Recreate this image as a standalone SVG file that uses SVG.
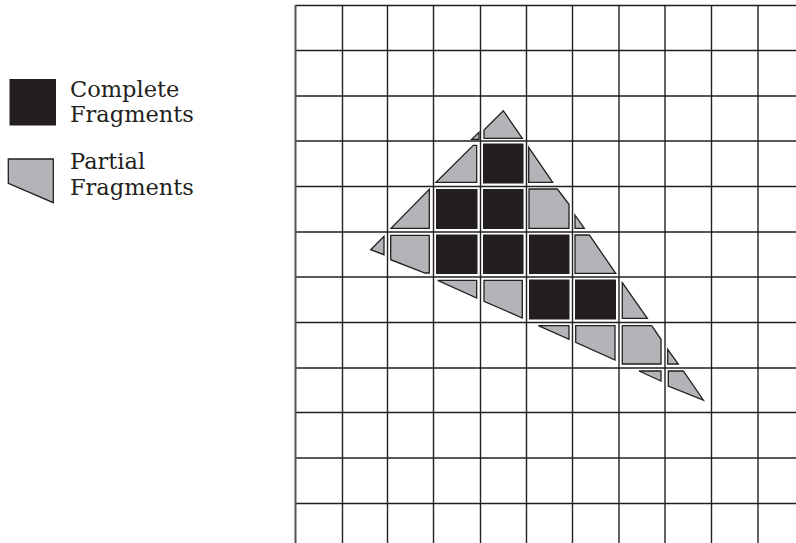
<svg xmlns="http://www.w3.org/2000/svg" width="796" height="543" viewBox="0 0 796 543">
<style>
.grid line{stroke:#231f20;stroke-width:1.4}
.full{fill:#231f20;stroke:#231f20;stroke-width:1}
.part{fill:#b3b4b7;stroke:#231f20;stroke-width:1.3;stroke-linejoin:miter}
.lbl{font-family:"DejaVu Serif","Liberation Serif",serif;font-size:22.5px;fill:#231f20}
</style>
<rect width="796" height="543" fill="#fff"/>
<g id="grid" class="grid">
<line x1="295.5" y1="5.5" x2="796" y2="5.5"/>
<line x1="295.5" y1="50.5" x2="796" y2="50.5"/>
<line x1="295.5" y1="96" x2="796" y2="96"/>
<line x1="295.5" y1="141" x2="796" y2="141"/>
<line x1="295.5" y1="186.5" x2="796" y2="186.5"/>
<line x1="295.5" y1="232" x2="796" y2="232"/>
<line x1="295.5" y1="277" x2="796" y2="277"/>
<line x1="295.5" y1="322.5" x2="796" y2="322.5"/>
<line x1="295.5" y1="368" x2="796" y2="368"/>
<line x1="295.5" y1="412.5" x2="796" y2="412.5"/>
<line x1="295.5" y1="458" x2="796" y2="458"/>
<line x1="295.5" y1="503.5" x2="796" y2="503.5"/>
<line x1="295.5" y1="5" x2="295.5" y2="543" style="stroke:#555;stroke-width:2"/>
<line x1="342.5" y1="5" x2="342.5" y2="543"/>
<line x1="387.5" y1="5" x2="387.5" y2="543"/>
<line x1="433.5" y1="5" x2="433.5" y2="543"/>
<line x1="480.5" y1="5" x2="480.5" y2="543"/>
<line x1="526.5" y1="5" x2="526.5" y2="543"/>
<line x1="572.5" y1="5" x2="572.5" y2="543"/>
<line x1="619" y1="5" x2="619" y2="543"/>
<line x1="665" y1="5" x2="665" y2="543"/>
<line x1="711.5" y1="5" x2="711.5" y2="543"/>
<line x1="758" y1="5" x2="758" y2="543"/>
</g>
<g id="complete-fragments">
<rect class="full" x="483.5" y="144" width="39.5" height="39"/>
<rect class="full" x="436.5" y="189.5" width="40.5" height="39"/>
<rect class="full" x="483.5" y="189.5" width="39.5" height="39"/>
<rect class="full" x="436.5" y="235" width="40.5" height="38.5"/>
<rect class="full" x="483.5" y="235" width="39.5" height="38.5"/>
<rect class="full" x="529.5" y="235" width="39.5" height="38.5"/>
<rect class="full" x="529.5" y="280" width="39.5" height="39"/>
<rect class="full" x="575.5" y="280" width="40" height="39"/>
</g>
<g id="partial-fragments">
<polygon class="part" points="479,132.3 479,139.3 471.7,139.3"/>
<polygon class="part" points="484,130 503.3,110.7 522.3,138.3 484,138.3"/>
<polygon class="part" points="473.3,145.3 476.7,145.3 476.7,182.3 436,182.3"/>
<polygon class="part" points="528.7,147.3 552.7,182.3 528.7,182.3"/>
<polygon class="part" points="429.3,189.3 429.3,228.3 391,228.3"/>
<polygon class="part" points="529,189 557.3,189 569,204.3 569,228.3 529,228.3"/>
<polygon class="part" points="575,215 584.3,228.3 575,228.3"/>
<polygon class="part" points="384,236.3 384,254.7 370.7,249.7"/>
<polygon class="part" points="390.7,235.3 429.3,235.3 429.3,273 425,273 390.7,259.7"/>
<polygon class="part" points="575,235 589.3,235 615.7,273.3 575,273.3"/>
<polygon class="part" points="437.7,280.3 476.7,280.3 476.7,298"/>
<polygon class="part" points="484,280.3 522.3,280.3 522.3,318 484,301.3"/>
<polygon class="part" points="622.3,282.7 647.3,318.3 622.3,318.3"/>
<polygon class="part" points="538.3,325.7 569,325.7 569,339.3"/>
<polygon class="part" points="575.7,325.7 615,325.7 615,360 575.7,342.3"/>
<polygon class="part" points="622.3,325.7 651.7,325.7 661,339.3 661,364 622.3,364"/>
<polygon class="part" points="667.7,349.3 678.3,364 667.7,364"/>
<polygon class="part" points="639,371 661,371 661,381"/>
<polygon class="part" points="668.3,371 683.3,371 703.3,400 668.3,386"/>
</g>
<g id="legend-complete">
<rect class="full" x="10" y="79.5" width="45.5" height="45.5"/>
<text class="lbl" x="70" y="97">Complete</text>
<text class="lbl" x="70" y="122">Fragments</text>
</g>
<g id="legend-partial">
<polygon class="part" points="8.3,159 53.3,159 53.3,202.7 8.3,183.3"/>
<text class="lbl" x="70" y="169">Partial</text>
<text class="lbl" x="70" y="195">Fragments</text>
</g>
</svg>
